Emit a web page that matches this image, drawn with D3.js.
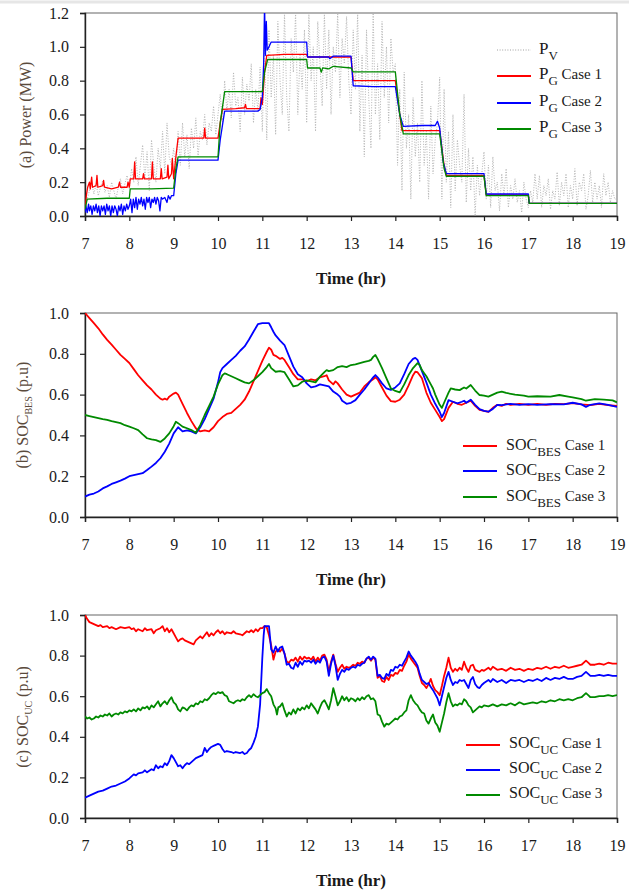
<!DOCTYPE html>
<html>
<head>
<meta charset="utf-8">
<script src="https://cdnjs.cloudflare.com/ajax/libs/d3/7.8.5/d3.min.js"></script>
<style>
  body { margin: 0; background: #fff; }
  svg, svg text { font-family: "Liberation Serif", "Times New Roman", serif; }
</style>
</head>
<body>
<script>
// ---- data ----
let hourTicks = [7,8,9,10,11,12,13,14,15,16,17,18,19];
let powerTicks = [0,0.2,0.4,0.6,0.8,1.0,1.2];
let socTicks = [0,0.2,0.4,0.6,0.8,1.0];
let caseNames = ["Case 1","Case 2","Case 3"];

// PV output sampled every 0.05 hr from 7:00
let pvStart = 7, pvStep = 0.05;
let pv = [
  0.03,0.1,0.15,0.2,0.13,0.19,0.12,0.17,0.21,0.14,0.18,0.11,0.2,0.15,0.1,0.17,0.22,0.13,0.19,0.24,
  0.16,0.28,0.2,0.35,0.18,0.3,0.42,0.22,0.38,0.15,0.45,0.3,0.2,0.4,0.28,0.5,0.25,0.55,0.35,0.3,
  0.4,0.25,0.5,0.3,0.55,0.35,0.48,0.28,0.52,0.4,0.58,0.35,0.5,0.45,0.6,0.42,0.55,0.5,0.65,0.48,
  0.6,0.72,0.55,0.8,0.62,0.75,0.58,0.85,0.65,0.7,0.5,0.82,0.6,0.78,0.68,0.9,0.55,0.75,0.62,0.88,
  0.5,1.0,0.45,1.1,0.7,0.95,0.48,1.15,0.8,0.6,1.2,0.7,0.5,1.05,0.85,1.2,0.6,0.95,0.75,1.1,
  0.55,1.2,0.8,1.0,0.5,1.15,0.9,0.65,1.2,0.75,1.1,0.6,1.0,0.85,1.2,0.7,1.05,0.9,1.18,0.8,
  0.6,1.1,0.75,1.2,0.5,0.95,0.35,1.1,0.7,0.4,1.2,0.6,0.9,0.45,1.15,0.7,1.0,0.55,1.05,0.85,
  0.9,0.3,0.75,0.15,0.85,0.4,0.6,0.1,0.7,0.35,0.55,0.2,0.8,0.3,0.5,0.1,0.65,0.25,0.45,0.55,
  0.82,0.1,0.75,0.2,0.5,0.05,0.6,0.15,0.45,0.3,0.2,0.72,0.08,0.4,0.15,0.35,0.0,0.3,0.12,0.25,
  0.38,0.1,0.3,0.05,0.35,0.15,0.2,0.03,0.25,0.12,0.28,0.05,0.18,0.1,0.22,0.08,0.15,0.02,0.2,0.1,
  0.05,0.15,0.08,0.25,0.1,0.24,0.05,0.18,0.12,0.22,0.04,0.15,0.1,0.26,0.06,0.2,0.12,0.25,0.05,0.18,
  0.1,0.28,0.06,0.2,0.15,0.25,0.04,0.12,0.27,0.08,0.2,0.1,0.18,0.05,0.25,0.12,0.2,0.08,0.15,0.1,
  0.1
];

// grid power [hour, MW]
let pg1 = [[7,0.03],[7.03,0.12],[7.06,0.17],[7.1,0.2],[7.12,0.16],[7.15,0.23],[7.17,0.17],[7.25,0.18],[7.27,0.24],[7.29,0.17],
  [7.4,0.18],[7.42,0.21],[7.44,0.17],[7.6,0.16],[7.75,0.17],[7.78,0.2],[7.8,0.17],[7.95,0.17],[7.97,0.2],[8.0,0.17],
  [8.02,0.22],[8.1,0.22],[8.12,0.32],[8.14,0.22],[8.3,0.22],[8.32,0.25],[8.34,0.22],[8.5,0.22],[8.52,0.32],[8.54,0.22],
  [8.7,0.22],[8.72,0.28],[8.74,0.22],[8.85,0.23],[8.87,0.3],[8.89,0.22],[8.95,0.25],[8.97,0.34],[9.0,0.22],[9.05,0.35],
  [9.1,0.46],[9.5,0.46],[9.68,0.46],[9.7,0.52],[9.72,0.46],[10.0,0.46],[10.05,0.55],[10.1,0.63],[10.4,0.635],[10.6,0.64],
  [10.62,0.66],[10.64,0.635],[10.95,0.635],[10.97,0.7],[11.0,0.66],[11.05,0.85],[11.1,0.95],[11.5,0.955],[12.0,0.955],
  [12.02,0.94],[12.5,0.94],[13.0,0.94],[13.05,0.8],[13.5,0.8],[14.0,0.8],[14.1,0.6],[14.15,0.505],[14.5,0.505],[15.0,0.505],
  [15.1,0.3],[15.15,0.24],[15.5,0.24],[16.0,0.24],[16.05,0.125],[16.5,0.125],[17.0,0.125],[17.02,0.075],[19,0.075]];
let pg2 = [[7,0.02],[7.02,0.06],[7.05,0.02],[7.08,0.07],[7.1,0.03],[7.13,0.06],[7.16,0.01],[7.19,0.06],[7.22,0.03],[7.25,0.07],
  [7.28,0.02],[7.31,0.06],[7.34,0.0],[7.37,0.06],[7.4,0.03],[7.43,0.06],[7.46,0.01],[7.49,0.07],[7.52,0.03],[7.55,0.06],
  [7.58,0.0],[7.61,0.06],[7.64,0.02],[7.67,0.06],[7.7,0.04],[7.73,0.0],[7.76,0.06],[7.79,0.03],[7.82,0.07],[7.85,0.01],
  [7.88,0.06],[7.91,0.03],[7.94,0.07],[7.97,0.04],[8.0,0.06],[8.03,0.1],[8.06,0.02],[8.09,0.1],[8.12,0.05],[8.15,0.11],
  [8.18,0.04],[8.21,0.1],[8.24,0.07],[8.27,0.11],[8.3,0.06],[8.33,0.1],[8.36,0.04],[8.39,0.11],[8.42,0.08],[8.45,0.11],
  [8.48,0.05],[8.51,0.1],[8.54,0.08],[8.57,0.11],[8.6,0.07],[8.63,0.11],[8.66,0.09],[8.69,0.03],[8.72,0.11],[8.75,0.1],
  [8.8,0.11],[8.85,0.08],[8.88,0.12],[8.92,0.1],[8.95,0.12],[9.0,0.12],[9.05,0.25],[9.1,0.33],[9.5,0.33],[10.0,0.33],
  [10.05,0.45],[10.15,0.62],[10.5,0.62],[10.9,0.62],[10.95,0.63],[11.0,0.7],[11.03,0.9],[11.05,1.25],[11.07,0.95],[11.09,1.15],
  [11.11,0.98],[11.15,1.0],[11.2,1.028],[11.6,1.028],[12.0,1.028],[12.02,0.94],[12.5,0.94],[12.52,0.93],[12.6,0.945],[13.0,0.945],
  [13.05,0.77],[13.5,0.765],[14.0,0.765],[14.1,0.6],[14.18,0.53],[14.6,0.535],[14.9,0.535],[14.95,0.56],[15.0,0.52],[15.08,0.32],
  [15.15,0.25],[15.6,0.25],[16.0,0.25],[16.05,0.13],[16.5,0.13],[17.0,0.13],[17.02,0.075],[19,0.075]];
let pg3 = [[7,0.04],[7.05,0.1],[7.5,0.105],[8.0,0.105],[8.02,0.16],[8.5,0.16],[9.0,0.165],[9.05,0.28],[9.1,0.35],[9.5,0.35],
  [10.0,0.35],[10.05,0.55],[10.15,0.735],[10.5,0.735],[11.0,0.735],[11.05,0.85],[11.12,0.925],[11.5,0.925],[12.0,0.925],
  [12.02,0.875],[12.3,0.875],[12.33,0.85],[12.36,0.875],[12.5,0.87],[12.6,0.885],[13.0,0.875],[13.05,0.852],[13.5,0.852],[14.0,0.852],
  [14.1,0.6],[14.18,0.485],[14.6,0.485],[15.0,0.485],[15.1,0.28],[15.15,0.235],[15.6,0.235],[16.0,0.235],[16.05,0.12],[16.5,0.12],
  [17.0,0.12],[17.02,0.075],[19,0.075]];

// battery state of charge [hour, p.u]
let bes1 = [[7.0,1.0],[7.1,0.975],[7.2,0.95],[7.3,0.925],[7.4,0.895],[7.5,0.868],[7.6,0.845],[7.7,0.82],[7.8,0.795],[7.9,0.775],
  [8.0,0.755],[8.1,0.725],[8.2,0.695],[8.3,0.67],[8.4,0.645],[8.5,0.625],[8.6,0.6],[8.7,0.58],[8.75,0.575],[8.8,0.58],
  [8.85,0.575],[8.9,0.59],[9.0,0.605],[9.05,0.61],[9.1,0.6],[9.2,0.555],[9.3,0.51],[9.4,0.47],[9.5,0.435],[9.55,0.425],
  [9.6,0.42],[9.7,0.425],[9.8,0.42],[9.85,0.43],[9.9,0.44],[10.0,0.47],[10.1,0.49],[10.2,0.505],[10.3,0.51],[10.4,0.53],
  [10.5,0.55],[10.6,0.575],[10.7,0.615],[10.8,0.665],[10.9,0.715],[11.0,0.765],[11.1,0.81],[11.15,0.83],[11.2,0.82],[11.25,0.795],
  [11.3,0.79],[11.4,0.775],[11.45,0.78],[11.5,0.77],[11.6,0.735],[11.7,0.7],[11.8,0.675],[11.9,0.675],[12.0,0.665],[12.1,0.675],
  [12.2,0.67],[12.3,0.685],[12.4,0.69],[12.45,0.695],[12.5,0.67],[12.6,0.65],[12.65,0.665],[12.7,0.655],[12.8,0.625],[12.9,0.6],
  [13.0,0.59],[13.1,0.6],[13.2,0.61],[13.3,0.64],[13.4,0.66],[13.5,0.675],[13.55,0.685],[13.6,0.675],[13.7,0.635],[13.8,0.595],
  [13.9,0.568],[14.0,0.565],[14.1,0.575],[14.2,0.6],[14.3,0.645],[14.4,0.695],[14.45,0.712],[14.5,0.71],[14.6,0.68],[14.7,0.61],
  [14.8,0.56],[14.9,0.525],[15.0,0.49],[15.05,0.47],[15.1,0.48],[15.2,0.535],[15.3,0.565],[15.4,0.555],[15.5,0.55],[15.6,0.56],
  [15.7,0.57],[15.8,0.545],[15.9,0.525],[16.0,0.52],[16.1,0.515],[16.2,0.535],[16.3,0.55],[16.4,0.545],[16.5,0.555],[16.6,0.55],
  [16.8,0.555],[17.0,0.55],[17.2,0.555],[17.4,0.55],[17.6,0.555],[17.8,0.553],[18.0,0.558],[18.2,0.552],[18.4,0.548],[18.6,0.555],
  [18.8,0.548],[19.0,0.544]];
let bes2 = [[7.0,0.1],[7.1,0.11],[7.2,0.115],[7.3,0.125],[7.4,0.14],[7.5,0.15],[7.6,0.162],[7.7,0.17],[7.8,0.178],[7.9,0.188],
  [8.0,0.2],[8.1,0.205],[8.2,0.21],[8.3,0.215],[8.4,0.23],[8.5,0.247],[8.6,0.265],[8.7,0.288],[8.8,0.32],[8.9,0.36],
  [9.0,0.41],[9.1,0.44],[9.2,0.42],[9.3,0.425],[9.4,0.42],[9.5,0.41],[9.6,0.44],[9.7,0.48],[9.8,0.53],[9.9,0.58],
  [10.0,0.66],[10.05,0.71],[10.1,0.73],[10.2,0.75],[10.3,0.77],[10.4,0.79],[10.5,0.815],[10.6,0.836],[10.7,0.87],[10.8,0.908],
  [10.9,0.945],[11.0,0.95],[11.1,0.95],[11.15,0.95],[11.2,0.93],[11.25,0.908],[11.3,0.89],[11.4,0.865],[11.5,0.843],[11.6,0.79],
  [11.7,0.737],[11.8,0.7],[11.9,0.685],[12.0,0.655],[12.1,0.635],[12.2,0.64],[12.3,0.65],[12.4,0.645],[12.5,0.64],[12.6,0.615],
  [12.7,0.6],[12.75,0.59],[12.8,0.57],[12.9,0.555],[13.0,0.56],[13.1,0.573],[13.2,0.6],[13.3,0.625],[13.4,0.655],[13.5,0.685],
  [13.55,0.696],[13.6,0.685],[13.7,0.655],[13.8,0.63],[13.9,0.623],[14.0,0.635],[14.1,0.655],[14.2,0.7],[14.3,0.75],[14.4,0.775],
  [14.45,0.78],[14.5,0.77],[14.6,0.715],[14.7,0.66],[14.8,0.6],[14.9,0.555],[15.0,0.516],[15.05,0.49],[15.1,0.51],[15.2,0.573],
  [15.3,0.565],[15.4,0.557],[15.5,0.565],[15.55,0.57],[15.6,0.56],[15.7,0.575],[15.8,0.55],[15.9,0.529],[16.0,0.52],[16.1,0.516],
  [16.2,0.53],[16.3,0.55],[16.4,0.548],[16.6,0.555],[16.8,0.55],[17.0,0.553],[17.2,0.55],[17.5,0.553],[17.8,0.552],[18.0,0.56],
  [18.2,0.552],[18.3,0.54],[18.4,0.55],[18.6,0.557],[18.8,0.55],[19.0,0.54]];
let bes3 = [[7.0,0.5],[7.1,0.495],[7.2,0.49],[7.3,0.485],[7.4,0.48],[7.5,0.476],[7.6,0.47],[7.7,0.465],[7.8,0.46],[7.9,0.45],
  [8.0,0.443],[8.1,0.435],[8.2,0.426],[8.3,0.405],[8.4,0.386],[8.5,0.38],[8.6,0.377],[8.7,0.368],[8.8,0.385],[8.9,0.41],
  [9.0,0.445],[9.05,0.467],[9.1,0.46],[9.2,0.443],[9.3,0.435],[9.4,0.426],[9.5,0.413],[9.6,0.45],[9.7,0.5],[9.8,0.545],
  [9.9,0.59],[10.0,0.65],[10.1,0.695],[10.15,0.704],[10.2,0.7],[10.3,0.69],[10.4,0.68],[10.5,0.67],[10.6,0.66],[10.7,0.655],
  [10.8,0.67],[10.9,0.69],[11.0,0.71],[11.1,0.735],[11.15,0.75],[11.2,0.73],[11.3,0.712],[11.4,0.715],[11.5,0.71],[11.6,0.675],
  [11.7,0.64],[11.8,0.645],[11.9,0.663],[12.0,0.67],[12.1,0.665],[12.2,0.66],[12.3,0.688],[12.4,0.71],[12.45,0.72],[12.5,0.715],
  [12.6,0.72],[12.7,0.735],[12.8,0.74],[12.9,0.735],[13.0,0.745],[13.1,0.748],[13.2,0.754],[13.3,0.76],[13.4,0.765],[13.45,0.77],
  [13.5,0.785],[13.55,0.794],[13.6,0.775],[13.7,0.73],[13.8,0.68],[13.9,0.63],[14.0,0.618],[14.1,0.611],[14.2,0.65],[14.3,0.696],
  [14.4,0.73],[14.5,0.754],[14.55,0.745],[14.6,0.72],[14.65,0.705],[14.7,0.69],[14.8,0.65],[14.85,0.63],[14.9,0.6],[15.0,0.55],
  [15.05,0.535],[15.1,0.56],[15.2,0.61],[15.25,0.63],[15.35,0.625],[15.45,0.622],[15.55,0.635],[15.6,0.63],[15.7,0.647],[15.8,0.62],
  [15.9,0.598],[16.0,0.595],[16.1,0.59],[16.2,0.6],[16.3,0.61],[16.4,0.615],[16.5,0.608],[16.7,0.6],[16.9,0.595],[17.0,0.59],
  [17.2,0.592],[17.5,0.59],[17.7,0.598],[17.9,0.59],[18.0,0.586],[18.2,0.578],[18.3,0.57],[18.5,0.578],[18.7,0.575],[18.9,0.572],
  [19.0,0.562]];

// ultracapacitor state of charge [hour, p.u]
let uc1 = [[7.0,1.0],[7.05,0.98],[7.1,0.965],[7.2,0.955],[7.3,0.945],[7.35,0.95],[7.4,0.94],[7.5,0.945],[7.55,0.935],[7.6,0.94],
  [7.7,0.93],[7.8,0.94],[7.9,0.935],[8.0,0.94],[8.05,0.93],[8.1,0.935],[8.15,0.92],[8.2,0.93],[8.3,0.92],[8.35,0.935],
  [8.4,0.925],[8.5,0.93],[8.55,0.91],[8.6,0.925],[8.7,0.935],[8.75,0.945],[8.8,0.92],[8.85,0.935],[8.9,0.915],[8.95,0.93],
  [9.0,0.91],[9.05,0.89],[9.1,0.87],[9.15,0.88],[9.2,0.885],[9.25,0.875],[9.3,0.87],[9.35,0.865],[9.4,0.86],[9.45,0.855],
  [9.5,0.875],[9.55,0.885],[9.6,0.895],[9.65,0.885],[9.7,0.9],[9.75,0.915],[9.8,0.895],[9.85,0.91],[9.9,0.9],[9.95,0.915],
  [10.0,0.925],[10.05,0.91],[10.1,0.92],[10.15,0.905],[10.2,0.915],[10.3,0.91],[10.35,0.92],[10.4,0.91],[10.5,0.905],[10.55,0.9],
  [10.6,0.91],[10.65,0.92],[10.7,0.915],[10.75,0.925],[10.8,0.915],[10.85,0.93],[10.9,0.92],[10.95,0.935],[11.0,0.935],[11.05,0.945],
  [11.1,0.94],[11.15,0.9],[11.2,0.85],[11.25,0.78],[11.3,0.82],[11.35,0.83],[11.4,0.82],[11.45,0.835],[11.5,0.81],[11.55,0.77],
  [11.6,0.765],[11.65,0.78],[11.7,0.775],[11.75,0.79],[11.8,0.77],[11.85,0.795],[11.9,0.78],[11.95,0.795],[12.0,0.785],[12.05,0.79],
  [12.1,0.78],[12.15,0.795],[12.2,0.77],[12.25,0.79],[12.3,0.775],[12.35,0.8],[12.4,0.805],[12.45,0.78],[12.5,0.72],[12.55,0.77],
  [12.6,0.805],[12.65,0.76],[12.7,0.72],[12.75,0.74],[12.8,0.755],[12.85,0.735],[12.9,0.745],[12.95,0.74],[13.0,0.745],[13.05,0.755],
  [13.1,0.75],[13.15,0.765],[13.2,0.76],[13.25,0.77],[13.3,0.765],[13.35,0.785],[13.4,0.79],[13.45,0.775],[13.5,0.79],[13.55,0.78],
  [13.6,0.69],[13.65,0.7],[13.7,0.675],[13.75,0.67],[13.8,0.695],[13.85,0.68],[13.9,0.705],[13.95,0.7],[14.0,0.715],[14.05,0.71],
  [14.1,0.73],[14.15,0.725],[14.2,0.75],[14.25,0.77],[14.3,0.805],[14.35,0.785],[14.4,0.77],[14.45,0.755],[14.5,0.74],[14.55,0.7],
  [14.6,0.665],[14.65,0.655],[14.7,0.64],[14.75,0.66],[14.8,0.685],[14.85,0.65],[14.9,0.63],[14.95,0.62],[15.0,0.605],[15.05,0.65],
  [15.1,0.7],[15.15,0.74],[15.2,0.79],[15.25,0.74],[15.3,0.72],[15.35,0.735],[15.4,0.725],[15.45,0.74],[15.5,0.73],[15.55,0.77],
  [15.6,0.74],[15.65,0.72],[15.7,0.75],[15.75,0.755],[15.8,0.73],[15.85,0.725],[15.9,0.72],[15.95,0.73],[16.0,0.725],[16.1,0.74],
  [16.15,0.73],[16.2,0.745],[16.3,0.73],[16.4,0.735],[16.5,0.725],[16.6,0.74],[16.7,0.73],[16.8,0.735],[16.9,0.725],[17.0,0.735],
  [17.1,0.73],[17.2,0.74],[17.3,0.735],[17.4,0.745],[17.5,0.735],[17.6,0.745],[17.7,0.74],[17.8,0.75],[17.9,0.74],[18.0,0.745],
  [18.1,0.75],[18.2,0.755],[18.3,0.775],[18.35,0.765],[18.4,0.755],[18.5,0.755],[18.6,0.76],[18.7,0.755],[18.8,0.765],[18.9,0.76],
  [19.0,0.76]];
let uc2 = [[7.0,0.1],[7.1,0.11],[7.2,0.12],[7.3,0.13],[7.4,0.135],[7.5,0.145],[7.6,0.155],[7.7,0.16],[7.8,0.17],[7.9,0.18],
  [8.0,0.195],[8.1,0.215],[8.15,0.21],[8.2,0.22],[8.3,0.225],[8.35,0.235],[8.4,0.225],[8.5,0.24],[8.55,0.235],[8.6,0.26],
  [8.65,0.245],[8.7,0.255],[8.75,0.25],[8.8,0.27],[8.85,0.26],[8.9,0.28],[8.95,0.31],[9.0,0.295],[9.05,0.275],[9.1,0.255],
  [9.15,0.26],[9.2,0.245],[9.25,0.26],[9.3,0.27],[9.35,0.265],[9.4,0.275],[9.45,0.285],[9.5,0.295],[9.55,0.3],[9.6,0.305],
  [9.65,0.31],[9.7,0.345],[9.75,0.325],[9.8,0.34],[9.85,0.35],[9.9,0.355],[9.95,0.36],[10.0,0.365],[10.05,0.36],[10.1,0.34],
  [10.15,0.325],[10.2,0.33],[10.3,0.325],[10.35,0.32],[10.4,0.325],[10.5,0.32],[10.55,0.325],[10.6,0.315],[10.65,0.32],[10.7,0.335],
  [10.75,0.345],[10.8,0.37],[10.85,0.4],[10.9,0.45],[10.95,0.56],[11.0,0.79],[11.03,0.9],[11.05,0.945],[11.15,0.945],[11.2,0.83],
  [11.25,0.815],[11.3,0.845],[11.35,0.82],[11.4,0.84],[11.45,0.845],[11.5,0.81],[11.55,0.755],[11.6,0.76],[11.65,0.74],[11.7,0.735],
  [11.75,0.765],[11.8,0.745],[11.85,0.77],[11.9,0.755],[11.95,0.775],[12.0,0.77],[12.05,0.775],[12.1,0.765],[12.15,0.78],[12.2,0.76],
  [12.25,0.775],[12.3,0.765],[12.35,0.79],[12.4,0.795],[12.45,0.77],[12.5,0.7],[12.55,0.76],[12.6,0.8],[12.65,0.75],[12.7,0.68],
  [12.75,0.71],[12.8,0.73],[12.85,0.72],[12.9,0.735],[12.95,0.73],[13.0,0.74],[13.05,0.745],[13.1,0.74],[13.15,0.755],[13.2,0.75],
  [13.25,0.76],[13.3,0.765],[13.35,0.785],[13.4,0.795],[13.45,0.78],[13.5,0.795],[13.55,0.785],[13.6,0.7],[13.65,0.705],[13.7,0.69],
  [13.75,0.685],[13.8,0.71],[13.85,0.7],[13.9,0.73],[13.95,0.725],[14.0,0.745],[14.05,0.74],[14.1,0.755],[14.15,0.75],[14.2,0.77],
  [14.25,0.79],[14.3,0.82],[14.35,0.8],[14.4,0.785],[14.45,0.77],[14.5,0.75],[14.55,0.71],[14.6,0.68],[14.65,0.67],[14.7,0.66],
  [14.75,0.665],[14.8,0.645],[14.85,0.63],[14.9,0.61],[14.95,0.59],[15.0,0.555],[15.05,0.6],[15.1,0.645],[15.15,0.69],[15.2,0.72],
  [15.25,0.68],[15.3,0.655],[15.35,0.67],[15.4,0.665],[15.45,0.68],[15.5,0.675],[15.55,0.68],[15.6,0.66],[15.65,0.64],[15.7,0.68],
  [15.75,0.695],[15.8,0.66],[15.85,0.645],[15.9,0.64],[15.95,0.655],[16.0,0.665],[16.1,0.68],[16.15,0.67],[16.2,0.685],[16.3,0.67],
  [16.4,0.68],[16.5,0.665],[16.6,0.68],[16.7,0.675],[16.8,0.68],[16.9,0.67],[17.0,0.68],[17.1,0.675],[17.2,0.685],[17.3,0.675],
  [17.4,0.69],[17.5,0.68],[17.6,0.69],[17.7,0.685],[17.8,0.695],[17.9,0.685],[18.0,0.685],[18.1,0.695],[18.2,0.7],[18.3,0.72],
  [18.35,0.71],[18.4,0.7],[18.5,0.7],[18.6,0.705],[18.7,0.7],[18.8,0.705],[18.9,0.7],[19.0,0.7]];
let uc3 = [[7.0,0.5],[7.05,0.49],[7.1,0.495],[7.15,0.485],[7.2,0.49],[7.25,0.5],[7.3,0.495],[7.35,0.505],[7.4,0.5],[7.45,0.51],
  [7.5,0.505],[7.55,0.515],[7.6,0.5],[7.65,0.51],[7.7,0.515],[7.75,0.51],[7.8,0.52],[7.85,0.515],[7.9,0.525],[7.95,0.52],
  [8.0,0.53],[8.05,0.525],[8.1,0.535],[8.15,0.525],[8.2,0.54],[8.25,0.53],[8.3,0.545],[8.35,0.54],[8.4,0.55],[8.45,0.535],
  [8.5,0.555],[8.55,0.545],[8.6,0.56],[8.65,0.575],[8.7,0.55],[8.75,0.565],[8.8,0.575],[8.85,0.56],[8.9,0.58],[8.95,0.595],
  [9.0,0.57],[9.05,0.56],[9.1,0.535],[9.15,0.525],[9.2,0.545],[9.25,0.54],[9.3,0.53],[9.35,0.545],[9.4,0.555],[9.45,0.55],
  [9.5,0.565],[9.55,0.56],[9.6,0.575],[9.65,0.57],[9.7,0.585],[9.75,0.58],[9.8,0.59],[9.85,0.605],[9.9,0.615],[9.95,0.61],
  [10.0,0.62],[10.05,0.615],[10.1,0.62],[10.15,0.605],[10.2,0.6],[10.25,0.575],[10.3,0.57],[10.35,0.565],[10.4,0.575],[10.45,0.58],
  [10.5,0.575],[10.55,0.585],[10.6,0.58],[10.65,0.595],[10.7,0.605],[10.75,0.595],[10.8,0.61],[10.85,0.6],[10.9,0.595],[10.95,0.605],
  [11.0,0.615],[11.05,0.62],[11.1,0.635],[11.15,0.615],[11.2,0.6],[11.25,0.56],[11.3,0.54],[11.33,0.51],[11.36,0.545],[11.4,0.55],
  [11.45,0.565],[11.5,0.53],[11.55,0.5],[11.6,0.52],[11.65,0.51],[11.7,0.535],[11.75,0.515],[11.8,0.54],[11.85,0.53],[11.9,0.545],
  [11.95,0.535],[12.0,0.555],[12.05,0.54],[12.1,0.565],[12.15,0.55],[12.2,0.535],[12.25,0.515],[12.3,0.545],[12.35,0.57],[12.4,0.58],
  [12.45,0.56],[12.5,0.535],[12.55,0.58],[12.6,0.64],[12.65,0.6],[12.7,0.555],[12.75,0.575],[12.8,0.6],[12.85,0.58],[12.9,0.595],
  [12.95,0.575],[13.0,0.59],[13.05,0.585],[13.1,0.575],[13.15,0.59],[13.2,0.58],[13.25,0.595],[13.3,0.585],[13.35,0.6],[13.4,0.605],
  [13.45,0.585],[13.5,0.59],[13.55,0.575],[13.6,0.51],[13.65,0.505],[13.7,0.475],[13.75,0.45],[13.8,0.465],[13.85,0.46],[13.9,0.47],
  [13.95,0.48],[14.0,0.49],[14.05,0.485],[14.1,0.5],[14.15,0.505],[14.2,0.52],[14.25,0.53],[14.3,0.58],[14.35,0.605],[14.4,0.58],
  [14.45,0.565],[14.5,0.555],[14.55,0.535],[14.6,0.52],[14.65,0.515],[14.7,0.48],[14.75,0.465],[14.8,0.49],[14.85,0.51],[14.9,0.47],
  [14.95,0.455],[15.0,0.425],[15.05,0.47],[15.1,0.515],[15.15,0.57],[15.2,0.615],[15.25,0.575],[15.3,0.55],[15.35,0.56],[15.4,0.555],
  [15.45,0.565],[15.5,0.56],[15.55,0.585],[15.6,0.575],[15.65,0.555],[15.7,0.545],[15.75,0.52],[15.8,0.53],[15.85,0.54],[15.9,0.55],
  [15.95,0.545],[16.0,0.555],[16.1,0.55],[16.2,0.56],[16.3,0.55],[16.4,0.56],[16.5,0.555],[16.6,0.565],[16.7,0.555],[16.8,0.57],
  [16.9,0.56],[17.0,0.565],[17.1,0.57],[17.2,0.565],[17.3,0.575],[17.4,0.57],[17.5,0.58],[17.6,0.575],[17.7,0.585],[17.8,0.58],
  [17.9,0.585],[18.0,0.58],[18.1,0.59],[18.2,0.595],[18.3,0.615],[18.35,0.605],[18.4,0.595],[18.5,0.595],[18.6,0.6],[18.7,0.6],
  [18.8,0.605],[18.9,0.6],[19.0,0.605]];

// ---- drawing ----
let colors = ["#ff0000","#0000ff","#008a00"];
let serif = "'Liberation Serif', 'Times New Roman', serif";
let left = 85, right = 617;

let svg = d3.select("body").append("svg").attr("width", 629).attr("height", 890)
  .attr("font-family", serif);

svg.append("line").attr("x1", 0).attr("x2", 629).attr("y1", 2).attr("y2", 2)
   .attr("stroke", "#e6e6e6").attr("stroke-width", 3);

let x = d3.scaleLinear().domain([7,19]).range([left, right]);

function drawPanel(id, top, bottom, ymax, yTicks) {
  let y = d3.scaleLinear().domain([0, ymax]).range([bottom, top]);
  let g = svg.append("g");

  g.append("clipPath").attr("id", "clip" + id)
    .append("rect").attr("x", left).attr("y", top).attr("width", right - left).attr("height", bottom - top);

  // frame
  g.append("rect").attr("x", left).attr("y", top).attr("width", right - left).attr("height", bottom - top)
    .attr("fill", "none").attr("stroke", "#666").attr("stroke-width", 1);

  let xa = g.append("g").attr("transform", "translate(0," + bottom + ")")
    .call(d3.axisBottom(x).tickValues(hourTicks).tickSize(5).tickPadding(17).tickFormat(d3.format("d")));
  let ya = g.append("g").attr("transform", "translate(" + left + ",0)")
    .call(d3.axisLeft(y).tickValues(yTicks).tickSize(5).tickPadding(11).tickFormat(d3.format(".1f")));
  [xa, ya].forEach(a => {
    a.attr("font-family", serif).attr("font-size", 16);
    a.select(".domain").attr("stroke", "#222").attr("stroke-width", 1.4);
    a.selectAll(".tick line").attr("stroke", "#222").attr("stroke-width", 1.2);
    a.selectAll(".tick text").attr("fill", "#1a1a1a");
  });

  g.append("text").attr("x", (left + right) / 2).attr("y", bottom + 68)
    .attr("text-anchor", "middle").attr("fill", "#1a1a1a")
    .attr("font-size", 17).attr("font-weight", "bold").text("Time (hr)");

  return {g: g, y: y, clip: "url(#clip" + id + ")"};
}

function addLine(p, data, color, width, dash) {
  let line = d3.line().x(d => x(d[0])).y(d => p.y(d[1]));
  let path = p.g.append("path").datum(data).attr("d", line)
    .attr("fill", "none").attr("stroke", color).attr("stroke-width", width)
    .attr("stroke-linejoin", "round").attr("clip-path", p.clip);
  if (dash) path.attr("stroke-dasharray", dash);
}

function yLabel(cx, cy, parts) {
  let t = svg.append("text").attr("transform", "translate(" + cx + "," + cy + ") rotate(-90)")
    .attr("text-anchor", "middle").attr("fill", "#5a4a3c").attr("font-size", 16);
  parts.forEach(pt => {
    let s = t.append("tspan").text(pt.t);
    if (pt.sub) s.attr("font-size", 10).attr("dy", 4);
    if (pt.up) s.attr("dy", -4);
  });
}

function legendRow(lx, ly, tx, ty, color, dash, main, sub, label, mainSize, subSize) {
  let l = svg.append("line").attr("x1", lx).attr("x2", lx + 34).attr("y1", ly).attr("y2", ly)
    .attr("stroke", color).attr("stroke-width", dash ? 1 : 2);
  if (dash) l.attr("stroke-dasharray", dash);
  let t = svg.append("text").attr("x", tx).attr("y", ty).attr("fill", "#1a1a1a").attr("font-size", mainSize);
  t.append("tspan").text(main);
  t.append("tspan").text(sub).attr("font-size", subSize).attr("dy", 6);
  if (label) t.append("tspan").text(" " + label).attr("font-size", 15).attr("dy", -6);
}

// (a) power
let pa = drawPanel("a", 13, 216, 1.2, powerTicks);
let pvPts = pv.map((v, i) => [pvStart + i * pvStep, v]);
addLine(pa, pvPts, "#b4b4b4", 1, "1,1.6");
[pg1, pg2, pg3].forEach((s, i) => addLine(pa, s, colors[i], 1.3));
yLabel(31, 115, [{t: "(a) Power (MW)"}]);
legendRow(497, 50, 539, 54, "#a0a0a0", "1,1.6", "P", "V", null, 17, 13);
[76, 103, 129].forEach((yy, i) =>
  legendRow(497, yy, 539, yy + 3, colors[i], null, "P", "G", caseNames[i], 17, 13));

// (b) battery SOC
let pb = drawPanel("b", 313, 517, 1.0, socTicks);
[bes1, bes2, bes3].forEach((s, i) => addLine(pb, s, colors[i], 1.8));
yLabel(28, 415, [{t: "(b) SOC"}, {t: "BES", sub: true}, {t: " (p.u)", up: true}]);
[446, 471, 497].forEach((yy, i) =>
  legendRow(463, yy, 506, yy + 4, colors[i], null, "SOC", "BES", caseNames[i], 16, 13));

// (c) ultracapacitor SOC
let pc = drawPanel("c", 615, 818, 1.0, socTicks);
[uc1, uc2, uc3].forEach((s, i) => addLine(pc, s, colors[i], 1.8));
yLabel(28, 717, [{t: "(c) SOC"}, {t: "UC", sub: true}, {t: " (p.u)", up: true}]);
[745, 770, 795].forEach((yy, i) =>
  legendRow(466, yy, 509, yy + 3, colors[i], null, "SOC", "UC", caseNames[i], 16, 13));
</script>
</body>
</html>
